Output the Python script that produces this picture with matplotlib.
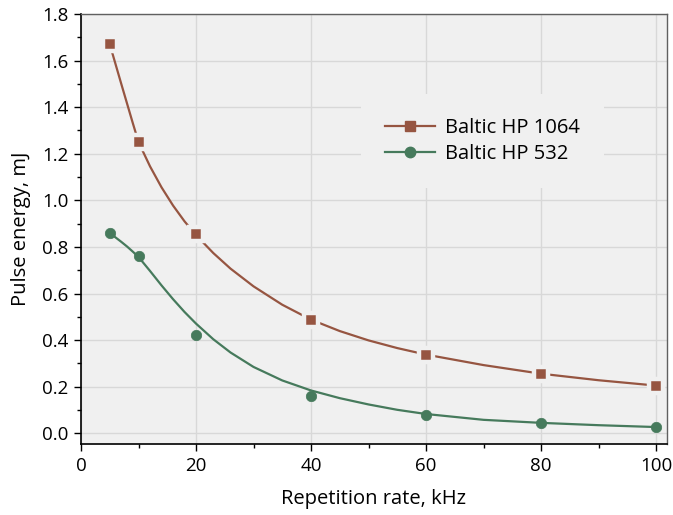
import numpy as np
import matplotlib
matplotlib.use('Agg')
import matplotlib.pyplot as plt
from matplotlib.lines import Line2D
from matplotlib.ticker import MultipleLocator, FormatStrFormatter

# measured points
rate = [5, 10, 20, 40, 60, 80, 100]
e1064 = [1.67, 1.25, 0.855, 0.485, 0.335, 0.255, 0.205]
e532 = [0.86, 0.76, 0.42, 0.16, 0.08, 0.045, 0.026]

# fitted curves
fit_rate = [5, 6, 7, 8, 9, 10, 12, 14, 16, 18, 20, 23, 26, 30, 35, 40,
            45, 50, 55, 60, 70, 80, 90, 100]
fit1064 = [1.67, 1.585, 1.50, 1.416, 1.332, 1.25, 1.146, 1.056, 0.978, 0.91,
           0.851, 0.774, 0.707, 0.631, 0.552, 0.488, 0.439, 0.399, 0.366,
           0.338, 0.293, 0.256, 0.228, 0.205]
fit532 = [0.86, 0.841, 0.822, 0.802, 0.780, 0.757, 0.697, 0.635, 0.576, 0.521,
          0.471, 0.404, 0.347, 0.285, 0.227, 0.184, 0.151, 0.124, 0.101,
          0.083, 0.058, 0.045, 0.035, 0.027]

brown = '#965541'
green = '#467a5c'
bg = '#f0f0f0'

plt.rcParams['font.family'] = ['Open Sans', 'DejaVu Sans']
plt.rcParams['font.size'] = 14

fig = plt.figure(figsize=(6.73, 5.15), dpi=100)
ax = fig.add_axes([0.1204, 0.1373, 0.8706, 0.8355])
ax.set_facecolor(bg)

ax.plot(fit_rate, fit1064, color=brown, lw=1.6, zorder=3)
ax.plot(fit_rate, fit532, color=green, lw=1.6, zorder=3)
# brown squares cut a small gap in the curve
ax.plot(rate, e1064, ls='none', marker='s', ms=9.5, mfc=brown,
        mec=bg, mew=3.2, zorder=4)
ax.plot(rate, e532, ls='none', marker='o', ms=7.5, mfc=green,
        mec=green, mew=0.5, zorder=4)

ax.set_xlim(0, 101.9)
ax.set_ylim(-0.047, 1.8)
ax.xaxis.set_major_locator(MultipleLocator(20))
ax.xaxis.set_minor_locator(MultipleLocator(10))
ax.yaxis.set_major_locator(MultipleLocator(0.2))
ax.yaxis.set_minor_locator(MultipleLocator(0.1))
ax.yaxis.set_major_formatter(FormatStrFormatter('%.1f'))
ax.grid(True, which='major', color='#d8d8d8', lw=1.0, zorder=0)
ax.set_axisbelow(True)

ax.tick_params(which='major', direction='out', length=5, width=1.0,
               color='black', labelsize=13.5, pad=4)
ax.tick_params(which='minor', direction='out', length=3, width=1.0,
               color='black')
for s in ['left', 'bottom']:
    ax.spines[s].set_color('black')
    ax.spines[s].set_linewidth(1.2)
for s in ['top', 'right']:
    ax.spines[s].set_color('#606060')
    ax.spines[s].set_linewidth(1.0)

ax.set_xlabel('Repetition rate, kHz', fontsize=14.5, labelpad=10)
ax.set_ylabel('Pulse energy, mJ', fontsize=14.5, labelpad=8)

handles = [Line2D([], [], color=brown, lw=1.6, marker='s', ms=7, mfc=brown, mec=brown),
           Line2D([], [], color=green, lw=1.6, marker='o', ms=7.5, mfc=green, mec=green)]
leg = ax.legend(handles, ['Baltic HP 1064', 'Baltic HP 532'],
                loc='center', bbox_to_anchor=(0.685, 0.705), fontsize=14.5,
                frameon=True, facecolor=bg, edgecolor='none', framealpha=1,
                fancybox=False, borderpad=1.2, handlelength=2.45,
                handletextpad=0.5, labelspacing=0.3)
leg.set_zorder(5)

fig.savefig('out.png', dpi=100)
